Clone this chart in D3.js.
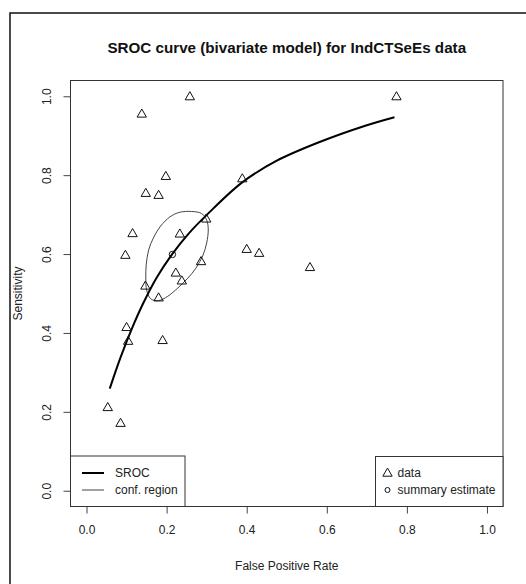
<!DOCTYPE html>
<html>
<head>
<meta charset="utf-8">
<title>SROC curve</title>
<script src="https://cdnjs.cloudflare.com/ajax/libs/d3/7.8.5/d3.min.js"></script>
<style>
  body { margin: 0; background: #fff; }
  text { font-family: "Liberation Sans", Arial, sans-serif; fill: #222; }
</style>
</head>
<body>
<div id="chart"></div>
<script>
// study data (false positive rate, sensitivity)
var dataFpr  = [0.258, 0.774, 0.138, 0.198, 0.148, 0.180, 0.389, 0.299, 0.115, 0.233,
                0.097, 0.400, 0.431, 0.558, 0.286, 0.223, 0.238, 0.147, 0.180,
                0.100, 0.104, 0.190, 0.053, 0.085];
var dataSens = [1.000, 1.000, 0.956, 0.798, 0.755, 0.750, 0.792, 0.690, 0.653, 0.652,
                0.598, 0.613, 0.603, 0.567, 0.582, 0.553, 0.533, 0.520, 0.490,
                0.415, 0.380, 0.382, 0.212, 0.172];

// summary estimate
var summaryFpr = 0.2145, summarySens = 0.599;

// SROC curve
var srocFpr  = [0.058, 0.085, 0.112, 0.141, 0.175, 0.214, 0.255, 0.301, 0.388,
                0.474, 0.582, 0.698, 0.769];
var srocSens = [0.259, 0.338, 0.408, 0.474, 0.540, 0.600, 0.652, 0.700, 0.781,
                0.836, 0.884, 0.926, 0.947];

// confidence region outline
var confFpr  = [0.262, 0.287, 0.300, 0.304, 0.300, 0.290, 0.273, 0.253, 0.228, 0.203,
                0.180, 0.160, 0.150, 0.148, 0.149, 0.155, 0.168, 0.185, 0.208, 0.233];
var confSens = [0.708, 0.703, 0.686, 0.661, 0.628, 0.595, 0.564, 0.539, 0.514, 0.493,
                0.482, 0.487, 0.509, 0.539, 0.572, 0.610, 0.643, 0.671, 0.694, 0.706];

var ticks = [0, 0.2, 0.4, 0.6, 0.8, 1.0];

var width = 526, height = 584;
var box = {left: 70.5, right: 503, top: 80.5, bottom: 506.5};

var svg = d3.select("#chart").append("svg")
    .attr("width", width)
    .attr("height", height);

// outer frame
svg.append("rect")
    .attr("x", 10).attr("y", 13)
    .attr("width", 600).attr("height", 700)
    .attr("fill", "none").attr("stroke", "#111").attr("stroke-width", 1.5);

var x = d3.scaleLinear().domain([-0.04, 1.04]).range([box.left, box.right]);
var y = d3.scaleLinear().domain([-0.04, 1.04]).range([box.bottom, box.top]);

// title
svg.append("text")
    .attr("x", (box.left + box.right) / 2).attr("y", 53)
    .attr("text-anchor", "middle")
    .style("font-size", "15.2px").style("font-weight", "bold").style("fill", "#111")
    .text("SROC curve (bivariate model) for IndCTSeEs data");

// axes
var xAxis = svg.append("g")
    .attr("transform", "translate(0," + box.bottom + ")")
    .call(d3.axisBottom(x).tickValues(ticks).tickFormat(d3.format(".1f")).tickSizeOuter(0).tickSize(7).tickPadding(12));
var yAxis = svg.append("g")
    .attr("transform", "translate(" + box.left + ",0)")
    .call(d3.axisLeft(y).tickValues(ticks).tickFormat(d3.format(".1f")).tickSizeOuter(0).tickSize(7));
[xAxis, yAxis].forEach(function(a) {
    a.select(".domain").remove();
    a.selectAll("line").attr("stroke", "#444");
    a.selectAll("text").style("font-size", "12px").style("font-family", "Liberation Sans, Arial, sans-serif").attr("fill", "#222");
});
yAxis.selectAll(".tick text")
    .attr("x", 0).attr("dy", 0)
    .attr("text-anchor", "middle")
    .attr("transform", "translate(-20,0) rotate(-90)");

// axis titles
svg.append("text")
    .attr("x", (box.left + box.right) / 2).attr("y", 570)
    .attr("text-anchor", "middle").style("font-size", "12px")
    .text("False Positive Rate");
svg.append("text")
    .attr("transform", "translate(22," + ((box.top + box.bottom) / 2) + ") rotate(-90)")
    .attr("text-anchor", "middle").style("font-size", "12px")
    .text("Sensitivity");

// plot box
svg.append("rect")
    .attr("x", box.left).attr("y", box.top)
    .attr("width", box.right - box.left).attr("height", box.bottom - box.top)
    .attr("fill", "none").attr("stroke", "#333").attr("stroke-width", 1);

// confidence region
var conf = confFpr.map(function(d, i) { return [d, confSens[i]]; });
svg.append("path")
    .datum(conf)
    .attr("d", d3.line().x(function(d) { return x(d[0]); }).y(function(d) { return y(d[1]); })
        .curve(d3.curveCardinalClosed))
    .attr("fill", "none").attr("stroke", "#444").attr("stroke-width", 1);

// SROC curve
var sroc = srocFpr.map(function(d, i) { return [d, srocSens[i]]; });
svg.append("path")
    .datum(sroc)
    .attr("d", d3.line().x(function(d) { return x(d[0]); }).y(function(d) { return y(d[1]); })
        .curve(d3.curveCatmullRom))
    .attr("fill", "none").attr("stroke", "#000").attr("stroke-width", 2);

// data triangles
var tri = d3.symbol().type(d3.symbolTriangle).size(38);
var pts = dataFpr.map(function(d, i) { return [d, dataSens[i]]; });
svg.selectAll(".pt")
    .data(pts).enter().append("path")
    .attr("class", "pt")
    .attr("d", tri)
    .attr("transform", function(d) { return "translate(" + x(d[0]) + "," + (y(d[1]) + 0.8) + ")"; })
    .attr("fill", "none").attr("stroke", "#111").attr("stroke-width", 1);

// summary estimate
svg.append("circle")
    .attr("cx", x(summaryFpr)).attr("cy", y(summarySens)).attr("r", 3.2)
    .attr("fill", "none").attr("stroke", "#111").attr("stroke-width", 1);

// legends
var legL = svg.append("g");
legL.append("rect")
    .attr("x", box.left).attr("y", 456).attr("width", 185 - box.left).attr("height", box.bottom - 456)
    .attr("fill", "#fff").attr("stroke", "#333");
legL.append("line").attr("x1", 82).attr("x2", 104).attr("y1", 473).attr("y2", 473)
    .attr("stroke", "#000").attr("stroke-width", 2);
legL.append("line").attr("x1", 82).attr("x2", 104).attr("y1", 490).attr("y2", 490)
    .attr("stroke", "#444").attr("stroke-width", 1);
legL.append("text").attr("x", 115).attr("y", 477).style("font-size", "12px").text("SROC");
legL.append("text").attr("x", 115).attr("y", 494).style("font-size", "12px").text("conf. region");

var legR = svg.append("g");
legR.append("rect")
    .attr("x", 375.5).attr("y", 456.5).attr("width", box.right - 375.5).attr("height", box.bottom - 456.5)
    .attr("fill", "#fff").attr("stroke", "#333");
legR.append("path").attr("d", tri)
    .attr("transform", "translate(387.5,473.5)")
    .attr("fill", "none").attr("stroke", "#111");
legR.append("circle").attr("cx", 387.5).attr("cy", 490).attr("r", 2.5)
    .attr("fill", "none").attr("stroke", "#111");
legR.append("text").attr("x", 397.5).attr("y", 477).style("font-size", "12px").text("data");
legR.append("text").attr("x", 397.5).attr("y", 494).style("font-size", "12px").text("summary estimate");
</script>
</body>
</html>
